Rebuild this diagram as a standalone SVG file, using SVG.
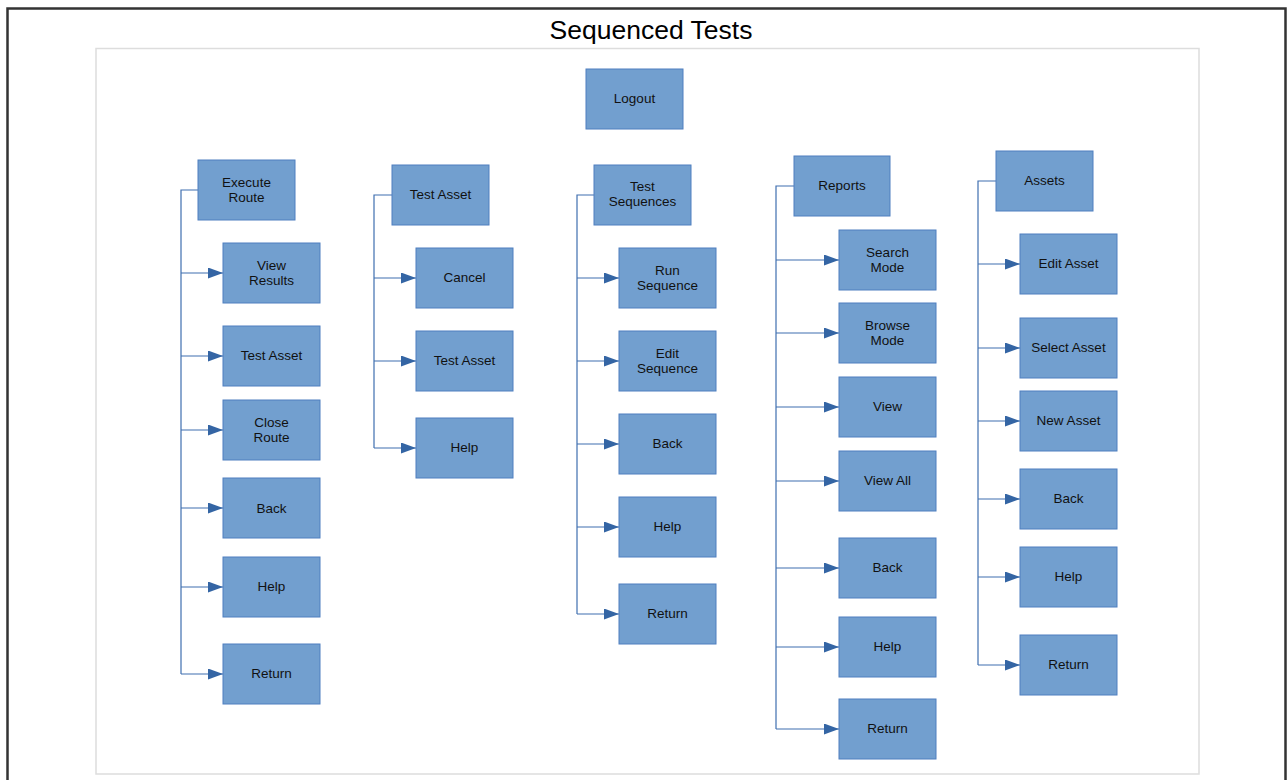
<svg xmlns="http://www.w3.org/2000/svg" width="1288" height="780" viewBox="0 0 1288 780">
<style>
.n rect{fill:#729fcf;stroke:#4f7fbf;stroke-width:1}
.n text{font-family:"Liberation Sans",Arial,sans-serif;font-size:13.5px;fill:#111;text-anchor:middle}
.c path{fill:none;stroke:#3f6fb0;stroke-width:1.2}
.title{font-family:"Liberation Sans",Arial,sans-serif;font-size:26.5px;fill:#000;text-anchor:middle}
</style>
<defs>
<marker id="ar" markerWidth="15" markerHeight="11" refX="15" refY="5.5" orient="auto" markerUnits="userSpaceOnUse">
<path d="M0,0 L15,5.5 L0,11 Z" fill="#3465a4"/>
</marker>
</defs>
<rect x="0" y="0" width="1288" height="780" fill="#fff"/>
<rect x="7.5" y="8.5" width="1278" height="790" fill="none" stroke="#333" stroke-width="2.5"/>
<rect x="96" y="48.5" width="1103" height="725.5" fill="none" stroke="#ddd" stroke-width="1.5"/>
<text class="title" x="651" y="39">Sequenced Tests</text>

<g class="c" id="connectors">
<path d="M198,190 H181 V674"/>
<path d="M181,273 H223" marker-end="url(#ar)"/>
<path d="M181,356 H223" marker-end="url(#ar)"/>
<path d="M181,430 H223" marker-end="url(#ar)"/>
<path d="M181,508 H223" marker-end="url(#ar)"/>
<path d="M181,587 H223" marker-end="url(#ar)"/>
<path d="M181,674 H223" marker-end="url(#ar)"/>

<path d="M392,195 H374 V448"/>
<path d="M374,278 H416" marker-end="url(#ar)"/>
<path d="M374,361 H416" marker-end="url(#ar)"/>
<path d="M374,448 H416" marker-end="url(#ar)"/>

<path d="M594,195 H577 V614"/>
<path d="M577,278 H619" marker-end="url(#ar)"/>
<path d="M577,361 H619" marker-end="url(#ar)"/>
<path d="M577,444 H619" marker-end="url(#ar)"/>
<path d="M577,527 H619" marker-end="url(#ar)"/>
<path d="M577,614 H619" marker-end="url(#ar)"/>

<path d="M794,186 H776 V729"/>
<path d="M776,260 H839" marker-end="url(#ar)"/>
<path d="M776,333 H839" marker-end="url(#ar)"/>
<path d="M776,407 H839" marker-end="url(#ar)"/>
<path d="M776,481 H839" marker-end="url(#ar)"/>
<path d="M776,568 H839" marker-end="url(#ar)"/>
<path d="M776,647 H839" marker-end="url(#ar)"/>
<path d="M776,729 H839" marker-end="url(#ar)"/>

<path d="M996,181 H978 V665"/>
<path d="M978,264 H1020" marker-end="url(#ar)"/>
<path d="M978,348 H1020" marker-end="url(#ar)"/>
<path d="M978,421 H1020" marker-end="url(#ar)"/>
<path d="M978,499 H1020" marker-end="url(#ar)"/>
<path d="M978,577 H1020" marker-end="url(#ar)"/>
<path d="M978,665 H1020" marker-end="url(#ar)"/>
</g>

<g class="n" id="logout"><rect x="586" y="69" width="97" height="60"/><text x="634.5" y="103">Logout</text></g>

<g class="n" id="execute-route"><rect x="198" y="160" width="97" height="60"/><text x="246.5" y="187">Execute</text><text x="246.5" y="202">Route</text></g>
<g class="n" id="er-view-results"><rect x="223" y="243" width="97" height="60"/><text x="271.5" y="270">View</text><text x="271.5" y="285">Results</text></g>
<g class="n" id="er-test-asset"><rect x="223" y="326" width="97" height="60"/><text x="271.5" y="360">Test Asset</text></g>
<g class="n" id="er-close-route"><rect x="223" y="400" width="97" height="60"/><text x="271.5" y="427">Close</text><text x="271.5" y="442">Route</text></g>
<g class="n" id="er-back"><rect x="223" y="478" width="97" height="60"/><text x="271.5" y="513">Back</text></g>
<g class="n" id="er-help"><rect x="223" y="557" width="97" height="60"/><text x="271.5" y="591">Help</text></g>
<g class="n" id="er-return"><rect x="223" y="644" width="97" height="60"/><text x="271.5" y="678">Return</text></g>

<g class="n" id="test-asset"><rect x="392" y="165" width="97" height="60"/><text x="440.5" y="199">Test Asset</text></g>
<g class="n" id="ta-cancel"><rect x="416" y="248" width="97" height="60"/><text x="464.5" y="282">Cancel</text></g>
<g class="n" id="ta-test-asset"><rect x="416" y="331" width="97" height="60"/><text x="464.5" y="365">Test Asset</text></g>
<g class="n" id="ta-help"><rect x="416" y="418" width="97" height="60"/><text x="464.5" y="452">Help</text></g>

<g class="n" id="test-sequences"><rect x="594" y="165" width="97" height="60"/><text x="642.5" y="191">Test</text><text x="642.5" y="206">Sequences</text></g>
<g class="n" id="ts-run-sequence"><rect x="619" y="248" width="97" height="60"/><text x="667.5" y="275">Run</text><text x="667.5" y="290">Sequence</text></g>
<g class="n" id="ts-edit-sequence"><rect x="619" y="331" width="97" height="60"/><text x="667.5" y="358">Edit</text><text x="667.5" y="373">Sequence</text></g>
<g class="n" id="ts-back"><rect x="619" y="414" width="97" height="60"/><text x="667.5" y="448">Back</text></g>
<g class="n" id="ts-help"><rect x="619" y="497" width="97" height="60"/><text x="667.5" y="531">Help</text></g>
<g class="n" id="ts-return"><rect x="619" y="584" width="97" height="60"/><text x="667.5" y="618">Return</text></g>

<g class="n" id="reports"><rect x="794" y="156" width="96" height="60"/><text x="842" y="190">Reports</text></g>
<g class="n" id="r-search-mode"><rect x="839" y="230" width="97" height="60"/><text x="887.5" y="257">Search</text><text x="887.5" y="272">Mode</text></g>
<g class="n" id="r-browse-mode"><rect x="839" y="303" width="97" height="60"/><text x="887.5" y="330">Browse</text><text x="887.5" y="345">Mode</text></g>
<g class="n" id="r-view"><rect x="839" y="377" width="97" height="60"/><text x="887.5" y="411">View</text></g>
<g class="n" id="r-view-all"><rect x="839" y="451" width="97" height="60"/><text x="887.5" y="485">View All</text></g>
<g class="n" id="r-back"><rect x="839" y="538" width="97" height="60"/><text x="887.5" y="572">Back</text></g>
<g class="n" id="r-help"><rect x="839" y="617" width="97" height="60"/><text x="887.5" y="651">Help</text></g>
<g class="n" id="r-return"><rect x="839" y="699" width="97" height="60"/><text x="887.5" y="733">Return</text></g>

<g class="n" id="assets"><rect x="996" y="151" width="97" height="60"/><text x="1044.5" y="185">Assets</text></g>
<g class="n" id="a-edit-asset"><rect x="1020" y="234" width="97" height="60"/><text x="1068.5" y="268">Edit Asset</text></g>
<g class="n" id="a-select-asset"><rect x="1020" y="318" width="97" height="60"/><text x="1068.5" y="352">Select Asset</text></g>
<g class="n" id="a-new-asset"><rect x="1020" y="391" width="97" height="60"/><text x="1068.5" y="425">New Asset</text></g>
<g class="n" id="a-back"><rect x="1020" y="469" width="97" height="60"/><text x="1068.5" y="503">Back</text></g>
<g class="n" id="a-help"><rect x="1020" y="547" width="97" height="60"/><text x="1068.5" y="581">Help</text></g>
<g class="n" id="a-return"><rect x="1020" y="635" width="97" height="60"/><text x="1068.5" y="669">Return</text></g>
</svg>
